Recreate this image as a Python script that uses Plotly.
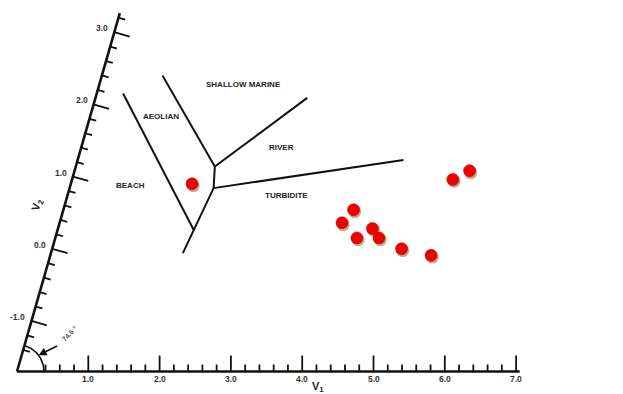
import numpy as np
import plotly.graph_objects as go

# ---------------- data (oblique V1 / V2 coordinates) ----------------
sample_v1 = [1.70, 5.34, 5.54, 4.07, 3.96, 4.41, 4.23, 4.54, 4.90, 5.34]
sample_v2 = [0.90, 0.96, 1.08, 0.54, 0.36, 0.28, 0.15, 0.15, 0.00, -0.09]

# environment field boundaries (polylines)
beach_aeolian_v1 = [0.37, 1.91]
beach_aeolian_v2 = [2.15, 0.26]
lower_spine_v1 = [1.85, 2.02, 1.95]
lower_spine_v2 = [-0.06, 0.84, 1.14]
aeolian_marine_v1 = [0.85, 1.95]
aeolian_marine_v2 = [2.40, 1.14]
marine_river_v1 = [1.95, 2.97]
marine_river_v2 = [1.14, 2.09]
river_turbidite_v1 = [2.02, 4.57]
river_turbidite_v2 = [0.84, 1.23]

region_names = ["SHALLOW MARINE", "AEOLIAN", "RIVER", "BEACH", "TURBIDITE"]
region_v1 = [2.02, 1.00, 2.81, 0.85, 3.07]
region_v2 = [2.27, 1.83, 1.40, 0.87, 0.74]

v1_tick_values = [1, 2, 3, 4, 5, 6, 7]
v1_tick_labels = ["1.0", "2.0", "3.0", "4.0", "5.0", "6.0", "7.0"]
v2_tick_values = [-1, 0, 1, 2, 3]
v2_tick_labels = ["-1.0", "0.0", "1.0", "2.0", "3.0"]
angle_label = "74.6 °"

# ---------------- oblique axis geometry ----------------
THETA = np.deg2rad(74.0)     # drawn angle between V1 and V2 axes
K = 1.0534                   # V2 unit length relative to V1 unit
V2_ORIGIN = -1.7             # V2 value at the axes' corner
V1_MAX = 7.05
V2_MAX = 3.265
CX, CY = K * np.cos(THETA), K * np.sin(THETA)
PX = 71.3                    # pixels per plot unit (both directions)

# page body has an 8px margin; compensate so the corner lands where intended
PAGE_OFF = 8
FIG_W, FIG_H = 623 - PAGE_OFF, 394 - PAGE_OFF
CORNER_X, CORNER_Y = 17 - PAGE_OFF, 371.5 - PAGE_OFF


def to_xy(v1, v2):
    v1 = np.asarray(v1, dtype=float)
    v2 = np.asarray(v2, dtype=float)
    return v1 + (v2 - V2_ORIGIN) * CX, (v2 - V2_ORIGIN) * CY


fig = go.Figure()

def add_line(v1, v2, width=2.0, color="#111"):
    x, y = to_xy(v1, v2)
    fig.add_trace(go.Scatter(x=x, y=y, mode="lines",
                             line=dict(color=color, width=width),
                             hoverinfo="skip", showlegend=False))

# axes
add_line([0, V1_MAX], [V2_ORIGIN, V2_ORIGIN], width=2.6)
add_line([0, 0], [V2_ORIGIN, V2_MAX], width=2.6)

# V1 ticks (point upward)
tx, ty = [], []
for v in np.arange(0.4, 7.01, 0.2):
    major = abs(v - round(v)) < 1e-6
    L = (16 if major else 7) / PX
    x0, y0 = to_xy(v, V2_ORIGIN)
    tx += [float(x0), float(x0), None]
    ty += [float(y0), float(y0) + L, None]
fig.add_trace(go.Scatter(x=tx, y=ty, mode="lines", line=dict(color="#111", width=1.8),
                         hoverinfo="skip", showlegend=False))

# V2 ticks (perpendicular to the oblique axis, pointing right)
nx, ny = np.sin(THETA), -np.cos(THETA)
tx, ty = [], []
for v in np.arange(-1.4, 3.21, 0.2):
    major = abs(v - round(v)) < 1e-6
    L = (16 if major else 7) / PX
    x0, y0 = to_xy(0, v)
    tx += [float(x0), float(x0) + L * nx, None]
    ty += [float(y0), float(y0) + L * ny, None]
fig.add_trace(go.Scatter(x=tx, y=ty, mode="lines", line=dict(color="#111", width=1.8),
                         hoverinfo="skip", showlegend=False))

# angle arc at the corner
R = 27 / PX
ang = np.linspace(0, THETA, 40)
ox, oy = to_xy(0, V2_ORIGIN)
fig.add_trace(go.Scatter(x=ox + R * np.cos(ang), y=oy + R * np.sin(ang), mode="lines",
                         line=dict(color="#111", width=1.6), hoverinfo="skip", showlegend=False))

# field boundaries
add_line(beach_aeolian_v1, beach_aeolian_v2)
add_line(lower_spine_v1, lower_spine_v2)
add_line(aeolian_marine_v1, aeolian_marine_v2)
add_line(marine_river_v1, marine_river_v2)
add_line(river_turbidite_v1, river_turbidite_v2)

# sample points with a soft shadow
sx, sy = to_xy(sample_v1, sample_v2)
fig.add_trace(go.Scatter(x=sx + 1.2 / PX, y=sy - 1.8 / PX, mode="markers",
                         marker=dict(size=13, color="rgba(150,95,50,0.55)", line=dict(width=0)),
                         hoverinfo="skip", showlegend=False))
fig.add_trace(go.Scatter(x=sx, y=sy, mode="markers",
                         marker=dict(size=12, color="#f00000", line=dict(width=0.6, color="#c00000")),
                         hoverinfo="skip", showlegend=False))

annotations = []
FONT = "Arial"
# region labels
rx, ry = to_xy(region_v1, region_v2)
for name, x, y in zip(region_names, rx, ry):
    annotations.append(dict(x=float(x), y=float(y), text=f"<b>{name}</b>", showarrow=False,
                            font=dict(family=FONT, size=8, color="#222")))
# V1 tick labels
for v, lab in zip(v1_tick_values, v1_tick_labels):
    x, y = to_xy(v, V2_ORIGIN)
    annotations.append(dict(x=float(x), y=float(y), text=f"<b>{lab}</b>", showarrow=False,
                            yshift=-7, font=dict(family=FONT, size=8.5, color="#333")))
# V2 tick labels
for v, lab in zip(v2_tick_values, v2_tick_labels):
    x, y = to_xy(0, v)
    annotations.append(dict(x=float(x), y=float(y), text=f"<b>{lab}</b>", showarrow=False,
                            xanchor="right", xshift=-4, yshift=4,
                            font=dict(family=FONT, size=8.5, color="#333")))
# axis titles
x, y = to_xy(4.22, V2_ORIGIN)
annotations.append(dict(x=float(x), y=float(y), text="<b>V<sub>1</sub></b>", showarrow=False,
                        yshift=-15, font=dict(family=FONT, size=11, color="#222")))
x, y = to_xy(0, 0.60)
annotations.append(dict(x=float(x), y=float(y), text="<b>V<sub>2</sub></b>", showarrow=False,
                        xshift=-27, textangle=-74, font=dict(family=FONT, size=11, color="#222")))
# angle arrow and label
hx, hy = ox + R * np.cos(THETA / 2), oy + R * np.sin(THETA / 2)
annotations.append(dict(x=float(hx), y=float(hy), text="", showarrow=True, arrowhead=2,
                        arrowsize=1, arrowwidth=1.6, arrowcolor="#111", ax=20, ay=-10,
                        standoff=0))
annotations.append(dict(x=float(hx), y=float(hy), text=f"<b>{angle_label}</b>", showarrow=False,
                        xshift=31, yshift=22, textangle=-47,
                        font=dict(family=FONT, size=7, color="#555")))

fig.update_layout(
    width=FIG_W, height=FIG_H,
    margin=dict(l=0, r=0, t=0, b=0),
    paper_bgcolor="white", plot_bgcolor="white",
    xaxis=dict(visible=False, range=[-CORNER_X / PX, (FIG_W - CORNER_X) / PX], fixedrange=True),
    yaxis=dict(visible=False, range=[-(FIG_H - CORNER_Y) / PX, CORNER_Y / PX], fixedrange=True),
    annotations=annotations,
    showlegend=False,
)

fig.write_html("out.html")
